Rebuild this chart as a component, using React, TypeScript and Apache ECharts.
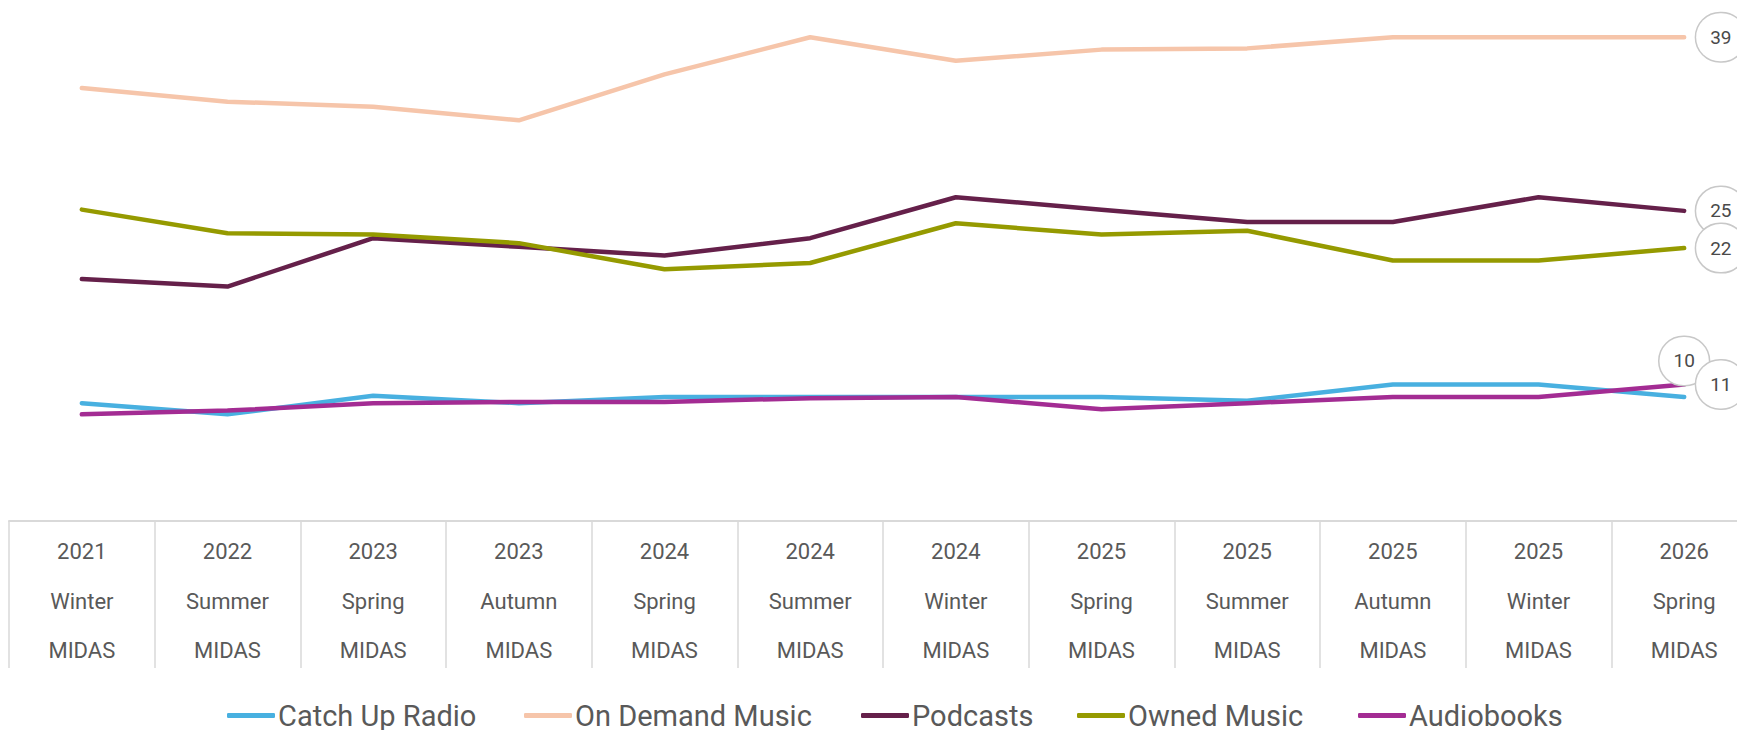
import React, { useEffect, useRef } from "react";
import * as echarts from "echarts";

const years = ["2021", "2022", "2023", "2023", "2024", "2024", "2024", "2025", "2025", "2025", "2025", "2026"];
const seasons = ["Winter", "Summer", "Spring", "Autumn", "Spring", "Summer", "Winter", "Spring", "Summer", "Autumn", "Winter", "Spring"];
const source = "MIDAS";

const catchUpRadio = [9.5, 8.6, 10.1, 9.5, 10.0, 10.0, 10.0, 10.0, 9.7, 11.0, 11.0, 10.0];
const onDemandMusic = [34.9, 33.8, 33.4, 32.3, 36.0, 39.0, 37.1, 38.0, 38.1, 39.0, 39.0, 39.0];
const podcasts = [19.5, 18.9, 22.8, 22.1, 21.4, 22.8, 26.1, 25.1, 24.1, 24.1, 26.1, 25.0];
const ownedMusic = [25.1, 23.2, 23.1, 22.4, 20.3, 20.8, 24.0, 23.1, 23.4, 21.0, 21.0, 22.0];
const audiobooks = [8.6, 8.9, 9.5, 9.6, 9.6, 9.9, 10.0, 9.0, 9.5, 10.0, 10.0, 11.0];

const seriesNames = ["Catch Up Radio", "On Demand Music", "Podcasts", "Owned Music", "Audiobooks"];
const seriesData = [catchUpRadio, onDemandMusic, podcasts, ownedMusic, audiobooks];
const seriesColors = ["#48B0E0", "#F6C5AA", "#65204A", "#959A00", "#A32C93"];
const labelPositions = ["top", "right", "right", "right", "right"];
const legendLefts = [227, 524, 861, 1077, 1358];

const FONT = "Roboto, 'Liberation Sans', sans-serif";

export default function App() {
  const ref = useRef<HTMLDivElement>(null);
  useEffect(() => {
    document.body.style.margin = "0";
    document.body.style.overflow = "hidden";
    document.documentElement.style.overflow = "hidden";
    const chart = echarts.init(ref.current!, null, { renderer: "svg" });
    const categories = years.map((y, i) => `${y}\n${seasons[i]}\n${source}`);
    const option = {
      animation: false,
      backgroundColor: "#ffffff",
      grid: { left: 9, right: 0, top: -1, height: 522, containLabel: false },
      xAxis: {
        type: "category",
        data: categories,
        boundaryGap: true,
        axisLine: { show: true, lineStyle: { color: "#D9D9D9", width: 2 } },
        axisTick: { show: true, length: 147, lineStyle: { color: "#D9D9D9", width: 1.5 } },
        axisLabel: {
          color: "#595959",
          fontSize: 22,
          fontFamily: FONT,
          lineHeight: 49.5,
          margin: 6,
          interval: 0,
        },
        splitLine: { show: false },
      },
      yAxis: {
        type: "value",
        min: 0,
        max: 42,
        show: false,
        splitLine: { show: false },
      },
      legend: seriesNames.map((name, i) => ({
        left: legendLefts[i],
        top: 701,
        padding: 0,
        itemWidth: 48,
        itemHeight: 5,
        icon: "roundRect",
        textStyle: { color: "#595959", fontSize: 29, fontFamily: FONT, padding: [0, 0, 0, -2] },
        data: [name],
      })),
      series: seriesNames.map((name, si) => {
        const data = seriesData[si];
        const color = seriesColors[si];
        return {
          name,
          type: "line",
          data: data.map((v, i) =>
            i === data.length - 1
              ? {
                  value: v,
                  label: {
                    show: true,
                    position: labelPositions[si],
                    distance: 12,
                    formatter: (p: any) => String(Math.round(p.value)),
                    color: "#4A4A4A",
                    fontSize: 19,
                    fontFamily: FONT,
                    lineHeight: 20,
                    padding: [14, 14],
                    backgroundColor: "#ffffff",
                    borderColor: "#C8C8C8",
                    borderWidth: 1.5,
                    borderRadius: 24,
                  },
                }
              : v
          ),
          color,
          symbol: "circle",
          symbolSize: 0,
          showSymbol: true,
          lineStyle: { color, width: 4.5, cap: "round", join: "round" },
          itemStyle: { color },
          label: { show: false },
          emphasis: { disabled: true },
        };
      }),
    };
    chart.setOption(option as any);
    return () => chart.dispose();
  }, []);
  return <div ref={ref} style={{ width: 1757, height: 730 }} />;
}
